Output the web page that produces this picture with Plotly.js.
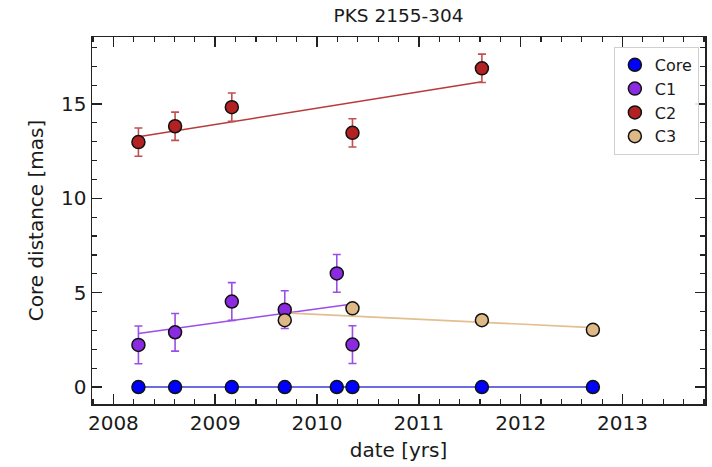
<!DOCTYPE html>
<html>
<head>
<meta charset="utf-8">
<script src="https://cdn.plot.ly/plotly-3.0.1.min.js"></script>
<style>
  html, body { margin: 0; padding: 0; background: #fff; }
  #chart { width: 712px; height: 467px; }
</style>
</head>
<body>
<div id="chart"></div>
<script>
// Epochs of the observations [yr]
const coreDates = [2008.246, 2008.606, 2009.163, 2009.683, 2010.194, 2010.348, 2011.619, 2012.709];
const coreDist  = [0, 0, 0, 0, 0, 0, 0, 0];
const coreErr   = [0, 0, 0, 0, 0, 0, 0, 0];

const c1Dates = [2008.246, 2008.606, 2009.163, 2009.683, 2010.194, 2010.348];
const c1Dist  = [2.23, 2.90, 4.53, 4.10, 6.02, 2.25];
const c1Err   = [1.0, 1.0, 1.0, 1.0, 1.0, 1.0];

const c2Dates = [2008.246, 2008.606, 2009.163, 2010.348, 2011.619];
const c2Dist  = [12.98, 13.82, 14.83, 13.47, 16.89];
const c2Err   = [0.75, 0.75, 0.75, 0.75, 0.75];

const c3Dates = [2009.683, 2010.348, 2011.619, 2012.709];
const c3Dist  = [3.54, 4.17, 3.54, 3.03];
const c3Err   = [0.25, 0.1, 0.1, 0.1];

// Linear fits, evaluated at the first and last epoch of each component
const coreFitX = [2008.246, 2012.709];
const coreFitY = [0, 0];
const c1FitX = [2008.246, 2010.348];
const c1FitY = [2.84, 4.40];
const c2FitX = [2008.246, 2011.619];
const c2FitY = [13.26, 16.18];
const c3FitX = [2009.683, 2012.709];
const c3FitY = [3.93, 3.15];

const txt = '#1a1a1a';
const font = 'DejaVu Sans, sans-serif';

function fitLine(x, y, color) {
  return { x: x, y: y, mode: 'lines', type: 'scatter', showlegend: false,
           hoverinfo: 'skip', line: { color: color, width: 1.6 } };
}
function points(name, x, y, err, fill, barColor) {
  return { name: name, x: x, y: y, mode: 'markers', type: 'scatter',
           marker: { size: 13, color: fill, line: { color: '#111', width: 1.5 } },
           error_y: { type: 'data', array: err, visible: true, color: barColor,
                      thickness: 1.6, width: 4 } };
}

const traces = [
  fitLine(coreFitX, coreFitY, '#3a3ad8'),
  fitLine(c1FitX, c1FitY, '#9b4de8'),
  fitLine(c2FitX, c2FitY, '#b83a3a'),
  fitLine(c3FitX, c3FitY, '#e2bf8f'),
  points('Core', coreDates, coreDist, coreErr, '#0000ff', '#3a3ad8'),
  points('C1', c1Dates, c1Dist, c1Err, '#8a2be2', '#9b4de8'),
  points('C2', c2Dates, c2Dist, c2Err, '#b22222', '#c05050'),
  points('C3', c3Dates, c3Dist, c3Err, '#deb887', '#e2bf8f')
];

const axisCommon = {
  showgrid: false, zeroline: false, showline: true, linecolor: '#222', linewidth: 1.5,
  mirror: 'allticks', ticks: 'inside', ticklen: 10, tickwidth: 1.5, tickcolor: '#222',
  tickfont: { family: font, size: 20, color: txt }
};

const layout = {
  width: 712, height: 467,
  margin: { l: 92, r: 7, t: 37, b: 63 },
  paper_bgcolor: '#fff', plot_bgcolor: '#fff',
  title: { text: 'PKS 2155-304', font: { family: font, size: 18.5, color: txt },
           x: 0.5, xref: 'paper', xanchor: 'center', y: 0.967, yanchor: 'middle' },
  xaxis: Object.assign({}, axisCommon, {
    range: [2007.79, 2013.81], tickmode: 'linear', tick0: 2008, dtick: 1,
    tickformat: 'd',
    minor: { dtick: 0.2, tick0: 2008, ticks: 'inside', ticklen: 5, tickwidth: 1.2, tickcolor: '#222' },
    title: { text: 'date [yrs]', font: { family: font, size: 20, color: txt }, standoff: 9 }
  }),
  yaxis: Object.assign({}, axisCommon, {
    range: [-0.9, 18.55], tickmode: 'linear', tick0: 0, dtick: 5,
    minor: { dtick: 1, tick0: 0, ticks: 'inside', ticklen: 5, tickwidth: 1.2, tickcolor: '#222' },
    title: { text: 'Core distance [mas]', font: { family: font, size: 20, color: txt }, standoff: 12 }
  }),
  legend: {
    x: 0.99, y: 0.973, xanchor: 'right', yanchor: 'top',
    bgcolor: 'rgba(255,255,255,0.9)', bordercolor: '#d0d0d0', borderwidth: 1,
    font: { family: font, size: 16, color: txt }, itemwidth: 30, tracegroupgap: 0
  },
  showlegend: true
};

Plotly.newPlot('chart', traces, layout, { displayModeBar: false, staticPlot: true });
</script>
</body>
</html>
